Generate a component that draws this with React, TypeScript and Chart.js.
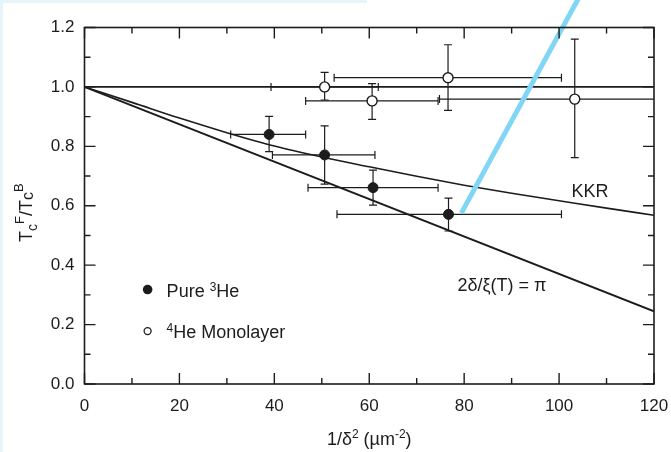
import React, { useEffect, useRef } from 'react';
import { Chart, registerables } from 'chart.js';

Chart.register(...registerables);

// ---- Data ----
const pureX = [38.9, 50.6, 60.8, 76.7];
const pureY = [0.84, 0.771, 0.661, 0.571];
const pureXLo = [30.8, 39.6, 47.1, 53.2];
const pureXHi = [46.6, 61.2, 74.5, 100.5];
const pureYLo = [0.782, 0.673, 0.602, 0.515];
const pureYHi = [0.901, 0.869, 0.72, 0.626];

const monoX = [50.6, 60.6, 76.6, 103.3];
const monoY = [1.0, 0.953, 1.031, 0.959];
const monoXLo = [39.3, 46.6, 52.6, 74.8];
const monoXHi = [61.9, 74.5, 100.5, 131.8];
const monoYLo = [0.956, 0.891, 0.921, 0.762];
const monoYHi = [1.049, 1.011, 1.142, 1.161];

const kkrX = [0, 10, 20, 30, 40, 50, 60, 70, 80, 90, 100, 110, 120];
const kkrY = [1.0, 0.948, 0.895, 0.846, 0.801, 0.764, 0.731, 0.699, 0.669, 0.642, 0.617, 0.592, 0.568];

const piLineX = [0, 120];
const piLineY = [1.0, 0.245];

const unityX = [0, 120];
const unityY = [1.0, 1.0];

const markX = [79.4, 105];
const markY = [0.575, 1.325];

const xTickLabels = ['0', '20', '40', '60', '80', '100', '120'];
const yTickLabels = ['0.0', '0.2', '0.4', '0.6', '0.8', '1.0', '1.2'];

const INK = '#1c1c1c';
const FONT = '"Liberation Sans", Arial, Helvetica, sans-serif';

const pts = (xs: number[], ys: number[]) => xs.map((x, i) => ({ x, y: ys[i] }));

type Part = { t: string; size: number; dy: number };

function drawRich(ctx: CanvasRenderingContext2D, parts: Part[], x: number, y: number) {
  let cx = x;
  for (const p of parts) {
    ctx.font = `${p.size}px ${FONT}`;
    ctx.fillText(p.t, cx, y + p.dy);
    cx += ctx.measureText(p.t).width;
  }
  return cx - x;
}
function richWidth(ctx: CanvasRenderingContext2D, parts: Part[]) {
  let w = 0;
  for (const p of parts) {
    ctx.font = `${p.size}px ${FONT}`;
    w += ctx.measureText(p.t).width;
  }
  return w;
}

const bgPlugin = {
  id: 'bg',
  beforeDraw(chart: any) {
    const ctx = chart.ctx;
    ctx.save();
    ctx.fillStyle = '#ffffff';
    ctx.fillRect(0, 0, chart.width, chart.height);
    ctx.fillStyle = '#e4f5fc';
    ctx.fillRect(0, 0, 3, chart.height);
    ctx.fillRect(0, 0, 367, 3);
    ctx.restore();
  },
};

const errPlugin = {
  id: 'errbars',
  beforeDatasetsDraw(chart: any) {
    const { ctx, chartArea } = chart;
    const xs = chart.scales.x;
    const ys = chart.scales.y;
    ctx.save();
    ctx.beginPath();
    ctx.rect(chartArea.left, chartArea.top, chartArea.right - chartArea.left, chartArea.bottom - chartArea.top);
    ctx.clip();
    ctx.strokeStyle = INK;
    ctx.lineWidth = 1.2;
    const cap = 4;
    const draw = (X: number[], Y: number[], XL: number[], XH: number[], YL: number[], YH: number[]) => {
      for (let i = 0; i < X.length; i++) {
        const px = xs.getPixelForValue(X[i]);
        const py = ys.getPixelForValue(Y[i]);
        const xl = xs.getPixelForValue(XL[i]);
        const xh = xs.getPixelForValue(XH[i]);
        const yl = ys.getPixelForValue(YL[i]);
        const yh = ys.getPixelForValue(YH[i]);
        ctx.beginPath();
        ctx.moveTo(xl, py); ctx.lineTo(xh, py);
        ctx.moveTo(xl, py - cap); ctx.lineTo(xl, py + cap);
        ctx.moveTo(xh, py - cap); ctx.lineTo(xh, py + cap);
        ctx.moveTo(px, yl); ctx.lineTo(px, yh);
        ctx.moveTo(px - cap, yl); ctx.lineTo(px + cap, yl);
        ctx.moveTo(px - cap, yh); ctx.lineTo(px + cap, yh);
        ctx.stroke();
      }
    };
    draw(pureX, pureY, pureXLo, pureXHi, pureYLo, pureYHi);
    draw(monoX, monoY, monoXLo, monoXHi, monoYLo, monoYHi);
    ctx.restore();
  },
};

const framePlugin = {
  id: 'frame',
  afterDraw(chart: any) {
    const { ctx, chartArea } = chart;
    const xs = chart.scales.x;
    const ys = chart.scales.y;
    const { left, right, top, bottom } = chartArea;
    ctx.save();
    ctx.strokeStyle = INK;
    ctx.lineWidth = 1.6;
    ctx.strokeRect(left, top, right - left, bottom - top);
    ctx.lineWidth = 1.4;
    ctx.beginPath();
    for (let v = 0; v <= 120; v += 10) {
      const px = xs.getPixelForValue(v);
      const len = v % 20 === 0 ? 11 : 6;
      ctx.moveTo(px, bottom); ctx.lineTo(px, bottom - len);
      ctx.moveTo(px, top); ctx.lineTo(px, top + len);
    }
    for (let k = 0; k <= 12; k++) {
      const py = ys.getPixelForValue(k / 10);
      const len = k % 2 === 0 ? 11 : 6;
      ctx.moveTo(left, py); ctx.lineTo(left + len, py);
      ctx.moveTo(right, py); ctx.lineTo(right - len, py);
    }
    ctx.stroke();

    ctx.fillStyle = INK;
    ctx.textBaseline = 'alphabetic';
    ctx.textAlign = 'left';

    // Annotations
    ctx.font = `18px ${FONT}`;
    ctx.fillText('KKR', xs.getPixelForValue(102.6), ys.getPixelForValue(0.629));
    ctx.fillText('2δ/ξ(T) = π', xs.getPixelForValue(78.6), ys.getPixelForValue(0.313));

    // Legend
    const lx = xs.getPixelForValue(13.3);
    const l1 = ys.getPixelForValue(0.318);
    const l2 = ys.getPixelForValue(0.178);
    ctx.beginPath();
    ctx.arc(lx, l1, 4.8, 0, Math.PI * 2);
    ctx.fill();
    ctx.beginPath();
    ctx.lineWidth = 1.3;
    ctx.arc(lx, l2, 3.5, 0, Math.PI * 2);
    ctx.stroke();
    const tx = lx + 19;
    drawRich(ctx, [
      { t: 'Pure ', size: 18, dy: 0 },
      { t: '3', size: 12, dy: -6 },
      { t: 'He', size: 18, dy: 0 },
    ], tx, l1 + 7);
    drawRich(ctx, [
      { t: '4', size: 12, dy: -6 },
      { t: 'He Monolayer', size: 18, dy: 0 },
    ], tx, l2 + 7);

    // X title
    const xt: Part[] = [
      { t: '1/δ', size: 18, dy: 0 },
      { t: '2', size: 12, dy: -7 },
      { t: ' (µm', size: 18, dy: 0 },
      { t: '-2', size: 12, dy: -7 },
      { t: ')', size: 18, dy: 0 },
    ];
    const w = richWidth(ctx, xt);
    drawRich(ctx, xt, (left + right) / 2 - w / 2, 445);

    // Y title (rotated)
    ctx.save();
    ctx.translate(32, 242);
    ctx.rotate(-Math.PI / 2);
    drawRich(ctx, [
      { t: 'T', size: 18, dy: 0 },
      { t: 'c', size: 14, dy: 5 },
      { t: 'F', size: 13, dy: -8 },
      { t: '/T', size: 18, dy: 0 },
      { t: 'c', size: 16, dy: 1 },
      { t: 'B', size: 13, dy: -9 },
    ], 0, 0);
    ctx.restore();

    ctx.restore();
  },
};

export default function App() {
  const ref = useRef<HTMLCanvasElement | null>(null);
  useEffect(() => {
    if (!ref.current) return;
    const chart = new Chart(ref.current, {
      type: 'scatter',
      data: {
        datasets: [
          {
            label: 'mark',
            data: pts(markX, markY),
            showLine: true,
            borderColor: '#82d6f5',
            borderWidth: 5,
            pointRadius: 0,
            clip: false as any,
            borderCapStyle: 'butt',
          } as any,
          {
            label: 'Pure 3He',
            data: pts(pureX, pureY),
            backgroundColor: INK,
            borderColor: INK,
            pointRadius: 5,
            borderWidth: 1,
          },
          {
            label: '4He Monolayer',
            data: pts(monoX, monoY),
            backgroundColor: '#ffffff',
            borderColor: INK,
            pointRadius: 5,
            borderWidth: 1.4,
          },
          {
            label: 'KKR',
            data: pts(kkrX, kkrY),
            showLine: true,
            borderColor: INK,
            borderWidth: 1.6,
            pointRadius: 0,
            cubicInterpolationMode: 'monotone',
          } as any,
          {
            label: 'pi',
            data: pts(piLineX, piLineY),
            showLine: true,
            borderColor: INK,
            borderWidth: 2,
            pointRadius: 0,
          },
          {
            label: 'unity',
            data: pts(unityX, unityY),
            showLine: true,
            borderColor: INK,
            borderWidth: 1.6,
            pointRadius: 0,
          },
        ],
      },
      options: {
        responsive: false,
        animation: false,
        devicePixelRatio: 1,
        layout: { padding: { left: 0, right: 17, top: 27.5, bottom: 0 } },
        plugins: { legend: { display: false }, tooltip: { enabled: false } },
        scales: {
          x: {
            type: 'linear',
            min: 0,
            max: 120,
            grid: { display: false, drawTicks: false },
            border: { display: false },
            afterFit: (s: any) => { s.height = 68; s.paddingLeft = 0; s.paddingRight = 0; },
            ticks: {
              stepSize: 20,
              padding: 12,
              color: INK,
              font: { family: FONT, size: 17 },
              callback: (v: any) => {
                const i = Math.round(Number(v) / 20);
                return Math.abs(Number(v) - i * 20) < 1e-6 ? xTickLabels[i] : '';
              },
            },
          },
          y: {
            type: 'linear',
            min: 0,
            max: 1.2,
            grid: { display: false, drawTicks: false },
            border: { display: false },
            afterFit: (s: any) => { s.width = 84.5; s.paddingTop = 0; s.paddingBottom = 0; },
            ticks: {
              stepSize: 0.2,
              padding: 10,
              color: INK,
              font: { family: FONT, size: 17 },
              callback: (v: any) => {
                const i = Math.round(Number(v) / 0.2);
                return Math.abs(Number(v) - i * 0.2) < 1e-6 ? yTickLabels[i] : '';
              },
            },
          },
        },
      },
      plugins: [bgPlugin, errPlugin, framePlugin],
    });
    return () => chart.destroy();
  }, []);
  return (
    <div style={{ position: 'absolute', left: 0, top: 0, width: 671, height: 452 }}>
      <canvas ref={ref} width={671} height={452} style={{ display: 'block', width: 671, height: 452 }} />
    </div>
  );
}
